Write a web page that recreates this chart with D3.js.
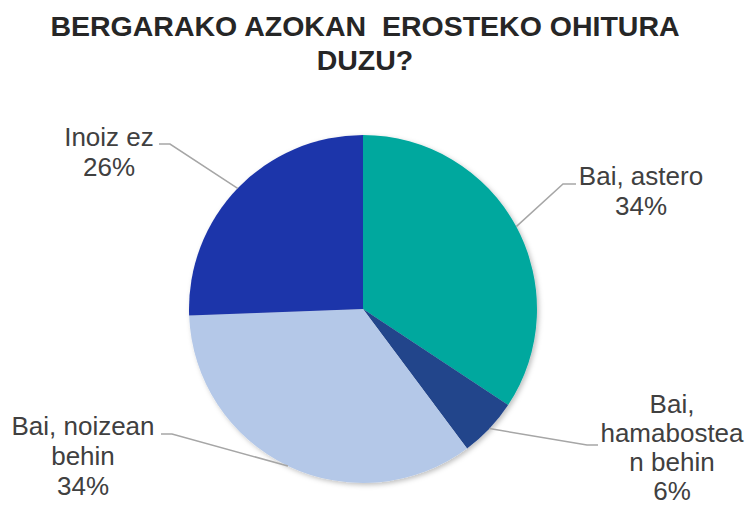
<!DOCTYPE html>
<html>
<head>
<meta charset="utf-8">
<script src="https://cdn.jsdelivr.net/npm/d3@7"></script>
<style>
  body { margin: 0; background: #fff; }
  text { font-family: "Liberation Sans", Arial, sans-serif; }
</style>
</head>
<body>
<div id="chart"></div>
<script>
// data
var categories = ['Bai, astero', 'Bai, hamabostean behin', 'Bai, noizean behin', 'Inoiz ez'];
var values = [34.3, 5.5, 34.6, 25.6];
var colors = ['#02A89E', '#21448B', '#B4C8E8', '#1C35AA'];
var titleLines = ['BERGARAKO AZOKAN  EROSTEKO OHITURA', 'DUZU?'];

// label layout (wrapped text, where it sits, leader elbow)
var labelLayout = [
    { lines: ['Bai, astero', '34%'], cx: 641, top: 185, lh: 30, ey: 184, ex: 563, tx: 576 },
    { lines: ['Bai,', 'hamabostea', 'n behin', '6%'], cx: 672, top: 413, lh: 29, ey: 445, ex: 587, tx: 598 },
    { lines: ['Bai, noizean', 'behin', '34%'], cx: 83, top: 435, lh: 30, ey: 434, ex: 172, tx: 161 },
    { lines: ['Inoiz ez', '26%'], cx: 109, top: 146, lh: 30, ey: 144, ex: 170, tx: 159 }
];

var width = 748, height = 509,
    cx = 363, cy = 309, radius = 174;

var svg = d3.select('#chart').append('svg')
    .attr('width', width).attr('height', height);

var defs = svg.append('defs');
defs.append('filter').attr('id', 'shadow')
    .attr('x', '-10%').attr('y', '-10%').attr('width', '125%').attr('height', '125%')
    .append('feDropShadow')
    .attr('dx', 2).attr('dy', 2).attr('stdDeviation', 2.5)
    .attr('flood-color', '#000').attr('flood-opacity', 0.25);

// title
svg.append('g').selectAll('text').data(titleLines).enter().append('text')
    .attr('x', 365)
    .attr('y', function (d, i) { return 36 + i * 34; })
    .attr('text-anchor', 'middle')
    .attr('font-size', 28.5)
    .attr('font-weight', 'bold')
    .attr('fill', '#262626')
    .style('white-space', 'pre')
    .text(function (d) { return d; });

var pie = d3.pie().sort(null).value(function (d) { return d; });
var arcs = pie(values);
var arc = d3.arc().innerRadius(0).outerRadius(radius);

var g = svg.append('g').attr('transform', 'translate(' + cx + ',' + cy + ')');

g.append('g').attr('filter', 'url(#shadow)')
    .selectAll('path').data(arcs).enter().append('path')
    .attr('d', arc)
    .attr('fill', function (d, i) { return colors[i]; });

// leader lines
g.selectAll('polyline').data(arcs).enter().append('polyline')
    .attr('points', function (d, i) {
        var a = (d.startAngle + d.endAngle) / 2,
            p0 = [Math.sin(a) * radius, -Math.cos(a) * radius],
            L = labelLayout[i];
        return [p0, [L.ex - cx, L.ey - cy], [L.tx - cx, L.ey - cy]].join(' ');
    })
    .attr('fill', 'none')
    .attr('stroke', '#A6A6A6')
    .attr('stroke-width', 1.5);

// labels
var labels = svg.append('g').selectAll('text').data(arcs).enter().append('text')
    .attr('text-anchor', 'middle')
    .attr('font-size', 26)
    .attr('fill', '#404040');

labels.each(function (d, i) {
    var L = labelLayout[i];
    d3.select(this).selectAll('tspan').data(L.lines).enter().append('tspan')
        .attr('x', L.cx)
        .attr('y', function (t, j) { return L.top + j * L.lh; })
        .text(function (t) { return t; });
});
</script>
</body>
</html>
